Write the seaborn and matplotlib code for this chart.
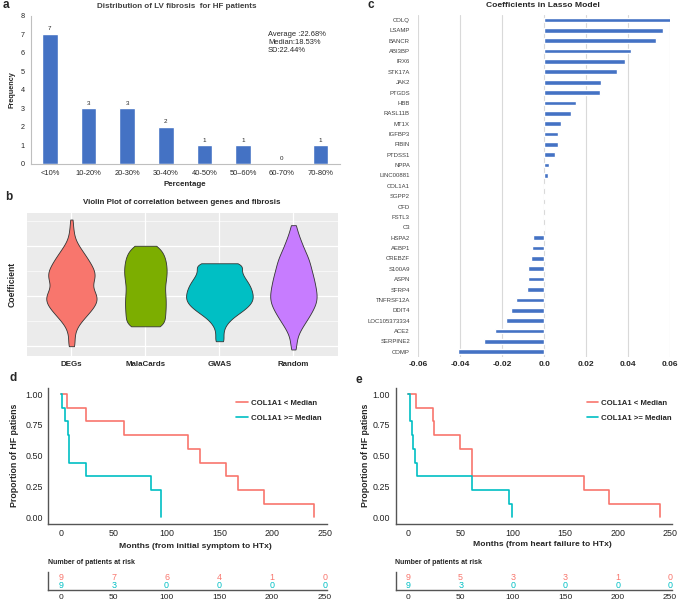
import numpy as np
import pandas as pd
import matplotlib
matplotlib.use("Agg")
import matplotlib.pyplot as plt
import seaborn as sns

# ---------------- data ----------------
# panel a
fib_cats = ["<10%", "10-20%", "20-30%", "30-40%", "40-50%", "50\u201360%", "60-70%", "70-80%"]
fib_freq = [7, 3, 3, 2, 1, 1, 0, 1]

# panel b: coefficient values (binned) and number of genes in each bin, per gene set
degs_bins = [0.767, 0.70, 0.65, 0.60, 0.55, 0.50, 0.45, 0.40, 0.35, 0.30, 0.25, 0.20, 0.15,
             0.10, 0.05, 0.0, -0.05, -0.10, -0.15, -0.20, -0.25, -0.30, -0.35, -0.40, -0.45,
             -0.507]
degs_counts = [2, 2, 2, 3, 4, 8, 11, 15, 18, 21, 24, 25, 23, 19, 23, 27, 27, 24, 20, 15, 11,
               6, 4, 3, 3, 5]
mala_bins = [0.503, 0.45, 0.40, 0.35, 0.30, 0.25, 0.20, 0.15, 0.10, 0.05, 0.0, -0.05, -0.10,
             -0.15, -0.20, -0.25, -0.307]
mala_counts = [15, 17, 19, 20, 21, 21, 21, 20, 19, 19, 20, 20, 20, 20, 19, 20, 24]
gwas_bins = [0.327, 0.30, 0.25, 0.20, 0.15, 0.10, 0.05, 0.0, -0.05, -0.10, -0.15, -0.20,
             -0.25, -0.30, -0.35, -0.40, -0.457]
gwas_counts = [20, 18, 22, 24, 28, 31, 33, 34, 34, 30, 24, 16, 10, 6, 4, 4, 6]
rand_bins = [0.71, 0.65, 0.60, 0.55, 0.50, 0.45, 0.40, 0.35, 0.30, 0.25, 0.20, 0.15, 0.10,
             0.05, 0.0, -0.05, -0.10, -0.15, -0.20, -0.25, -0.30, -0.35, -0.40, -0.45, -0.50,
             -0.54]
rand_counts = [4, 4, 6, 8, 10, 12, 15, 17, 18, 19, 21, 22, 23, 24, 25, 25, 23, 20, 17, 14,
               10, 7, 4, 3, 3, 3]
violin_groups = ["DEGs", "MalaCards", "GWAS", "Random"]
violin_colors = ["#F8766D", "#7CAE00", "#00BFC4", "#C77CFF"]

# panel c
lasso_genes = ["COLQ", "LSAMP", "BANCR", "ABI3BP", "IRX6", "STK17A", "JAK2", "PTGDS", "HBB",
               "RASL11B", "MT1X", "IGFBP3", "FIBIN", "PTDSS1", "NPPA", "LINC00881", "COL1A1",
               "SGPP2", "CFD", "FSTL3", "C3", "HSPA2", "AEBP1", "CREBZF", "S100A9", "ASPN",
               "SFRP4", "TNFRSF12A", "DDIT4", "LOC105373334", "ACE2", "SERPINE2", "COMP"]
lasso_coef = [0.0611, 0.0568, 0.0533, 0.0414, 0.0385, 0.0345, 0.0269, 0.0266, 0.0154,
              0.0129, 0.0080, 0.0067, 0.0064, 0.0054, 0.0024, 0.0017, 0.0006, 0.0006,
              0.0005, 0.0003, -0.0006, -0.0053, -0.0059, -0.0064, -0.0076, -0.0076,
              -0.0080, -0.0135, -0.0158, -0.0181, -0.0235, -0.0288, -0.0411]

# panels d / e (event times, months)
d_low_times = [5.5, 24, 60, 120, 132, 156, 168, 192, 240]
d_high_times = [0.6, 3.8, 7, 8, 8, 24, 85, 95, 95]
e_low_times = [7, 24, 25, 49, 61, 61, 168, 192, 240]
e_high_times = [1.5, 1.5, 3.5, 5, 6.5, 8, 61, 96.5, 99]
km_labels = ["COL1A1 < Median", "COL1A1 >= Median"]
km_colors = ["#F8766D", "#00BFC4"]
risk_times = [0, 50, 100, 150, 200, 250]

# ---------------- figure ----------------
sns.set_style("white")
plt.rcParams['font.family'] = ['Liberation Sans', 'DejaVu Sans']

W, H = 685, 603
fig = plt.figure(figsize=(W / 100, H / 100), dpi=100)


def add_ax(l, t, r, b):
    return fig.add_axes([l / W, 1 - b / H, (r - l) / W, (b - t) / H])


def ftext(x, y, s, **kw):
    kw.setdefault("va", "center")
    return fig.text(x / W, 1 - y / H, s, **kw)


# panel letters
for lx, ly, lt in [(3, 5, "a"), (5, 197, "b"), (367, 5, "c"), (10, 378, "d"), (356, 380, "e")]:
    ftext(lx, ly, lt, fontsize=8.5, fontweight="bold", ha="left")

# ---------------- panel a ----------------
axa = add_ax(30.5, 15.7, 339.8, 164)
sns.barplot(x=fib_cats, y=fib_freq, color="#4472C4", width=0.4, saturation=1, ax=axa)
axa.bar_label(axa.containers[0], labels=[str(v) for v in fib_freq], fontsize=4.5, padding=2)
axa.set_ylim(0, 8)
axa.set_yticks(range(0, 9))
axa.set_xlim(-0.5, 7.5)
for s in ["top", "right"]:
    axa.spines[s].set_visible(False)
for s in ["left", "bottom"]:
    axa.spines[s].set_color("#BFBFBF")
    axa.spines[s].set_linewidth(0.8)
axa.tick_params(axis="y", labelsize=5.2, length=2, color="#BFBFBF", pad=2)
axa.tick_params(axis="x", labelsize=5.4, length=0, pad=4)
axa.set_xlabel("")
axa.set_ylabel("")
ftext(176.7, 6.7, "Distribution of LV fibrosis  for HF patients", fontsize=5.8,
      fontweight="bold", ha="center", color="#404040")
ftext(185, 185, "Percentage", fontsize=5.7, fontweight="bold", ha="center")
ftext(12, 90, "Frequency", fontsize=5.2, fontweight="bold", ha="center", rotation=90)
ftext(268, 31, "Average :22.68%\nMedian:18.53%\nSD:22.44%", fontsize=5.4, ha="left",
      va="top", linespacing=1.15)

# ---------------- panel b ----------------
axb = add_ax(27, 212.7, 337.8, 356)
axb.set_facecolor("#EBEBEB")
groups_b = [(g, b, c) for g, b, c in zip(
    violin_groups, [degs_bins, mala_bins, gwas_bins, rand_bins],
    [degs_counts, mala_counts, gwas_counts, rand_counts])]
vdf = pd.concat([pd.DataFrame({"group": g, "value": np.repeat(b, c)})
                 for g, b, c in groups_b], ignore_index=True)
sns.violinplot(data=vdf, x="group", y="value", hue="group", order=violin_groups,
               hue_order=violin_groups, palette=violin_colors, cut=0, inner=None,
               density_norm="area", common_norm=True, width=0.9, linewidth=0.6,
               linecolor="#333333", saturation=1, bw_method=0.23, legend=False, ax=axb)
axb.set_xlim(-0.6, 3.6)
axb.set_ylim(-0.6055, 0.8355)
axb.set_yticks([-0.5, 0, 0.5])
axb.set_yticks([-0.25, 0.25, 0.75], minor=True)
axb.set_yticklabels(["", "", ""])
axb.grid(True, which="major", color="white", linewidth=0.9)
axb.grid(True, which="minor", axis="y", color="white", linewidth=0.45)
axb.set_axisbelow(True)
for s in axb.spines.values():
    s.set_visible(False)
axb.tick_params(axis="both", which="major", length=2, color="#333333", width=0.6)
axb.tick_params(axis="y", which="minor", length=0)
axb.tick_params(axis="x", labelsize=5.7, pad=1.5)
for lab in axb.get_xticklabels():
    lab.set_fontweight("bold")
axb.set_xlabel("")
axb.set_ylabel("")
ftext(182, 203, "Violin Plot of correlation between genes and fibrosis", fontsize=5.7,
      fontweight="bold", ha="center")
ftext(12, 284, "Coefficient", fontsize=6.2, fontweight="bold", ha="center", rotation=90)

# ---------------- panel c ----------------
axc = add_ax(418.3, 14.8, 670, 356.9)
sns.barplot(y=lasso_genes, x=lasso_coef, orient="h", color="#4472C4", width=0.45,
            saturation=1, ax=axc)
axc.set_xlim(-0.06, 0.06)
ticks_c = [-0.06, -0.04, -0.02, 0.0, 0.02, 0.04, 0.06]
axc.set_xticks(ticks_c)
axc.set_xticklabels(["-0.06", "-0.04", "-0.02", "0.0", "0.02", "0.04", "0.06"])
axc.set_ylim(len(lasso_genes) - 0.5, -0.5)
axc.grid(True, axis="x", color="#D9D9D9", linewidth=0.8)
axc.set_axisbelow(True)
for s in axc.spines.values():
    s.set_visible(False)
axc.tick_params(axis="y", labelsize=4.3, length=0, pad=6, labelcolor="#404040")
axc.tick_params(axis="x", labelsize=6.0, length=0, pad=3)
for lab in axc.get_xticklabels():
    lab.set_fontweight("bold")
axc.set_xlabel("")
axc.set_ylabel("")
ftext(543, 5.5, "Coefficients in Lasso Model", fontsize=6.1, fontweight="bold", ha="center")


# ---------------- KM panels ----------------
def km_steps(times):
    t = np.sort(np.asarray(times, float))
    xs, ys = [0.0], [1.0]
    s = 1.0
    for u in np.unique(t):
        at_risk = np.sum(t >= u)
        d = np.sum(t == u)
        s *= (1 - d / at_risk)
        xs.append(u)
        ys.append(s)
    return np.array(xs), np.array(ys)


def km_panel(left, right, xlabel, low, high, legend_x, ylabel_x, xlabel_y):
    top, bottom = 387.9, 523.5
    ax = add_ax(left, top, right, bottom)
    for times, lab, col in zip([low, high], km_labels, km_colors):
        xs, ys = km_steps(times)
        sns.lineplot(x=xs, y=ys, drawstyle="steps-post", color=col, linewidth=1.2,
                     label=lab, ax=ax, estimator=None, sort=False)
    ax.set_xlim(-12, 252)
    ax.set_ylim(-0.05, 1.05)
    ax.set_xticks(risk_times)
    ax.set_yticks([0, 0.25, 0.5, 0.75, 1.0])
    ax.set_yticklabels(["0.00", "0.25", "0.50", "0.75", "1.00"])
    for s in ["top", "right"]:
        ax.spines[s].set_visible(False)
    for s in ["left", "bottom"]:
        ax.spines[s].set_color("#555555")
        ax.spines[s].set_linewidth(1.0)
    ax.tick_params(labelsize=6.4, length=2.5, color="#333333", width=0.7, pad=1.5,
                   labelcolor="#222222")
    ax.set_xlabel("")
    ax.set_ylabel("")
    ax.legend(loc="upper left", bbox_to_anchor=(legend_x / W, 1 - 399.5 / H),
              bbox_transform=fig.transFigure, frameon=False,
              handlelength=1.45, handletextpad=0.4, labelspacing=1.0, borderpad=0,
              borderaxespad=0, prop={"weight": "bold", "size": 5.6})
    ftext((left + right) / 2 + 8, xlabel_y, xlabel, fontsize=6.1, fontweight="bold",
          ha="center")
    ftext(ylabel_x, 455, "Proportion of HF patiens", fontsize=6.3, fontweight="bold",
          ha="center", rotation=90)

    # risk table
    rax = add_ax(left, 572, right, 590.2)
    rax.set_xlim(-12, 252)
    rax.set_ylim(-0.57, 1.62)
    for row, (times, col) in enumerate(zip([low, high], km_colors)):
        arr = np.asarray(times, float)
        for t in risk_times:
            n = int(np.sum(arr >= t))
            rax.text(t, 1 - row, str(n), color=col, fontsize=6.4, ha="center", va="center")
    rax.set_xticks(risk_times)
    rax.set_yticks([])
    for s in ["top", "right"]:
        rax.spines[s].set_visible(False)
    for s in ["left", "bottom"]:
        rax.spines[s].set_color("#555555")
        rax.spines[s].set_linewidth(1.0)
    rax.tick_params(labelsize=6.0, length=2, color="#333333", width=0.7, pad=0.8,
                    labelcolor="#222222")
    ftext(left - 0.6, 563, "Number of patients at risk", fontsize=5.0, fontweight="bold",
          ha="left")
    return ax


km_panel(48.3, 327, "Months (from initial symptom to HTx)", d_low_times, d_high_times,
         236.5, 15, 546)
km_panel(395.7, 672.1, "Months (from heart failure to HTx)", e_low_times, e_high_times,
         586.5, 366, 544)

fig.savefig("out.png", dpi=100)
